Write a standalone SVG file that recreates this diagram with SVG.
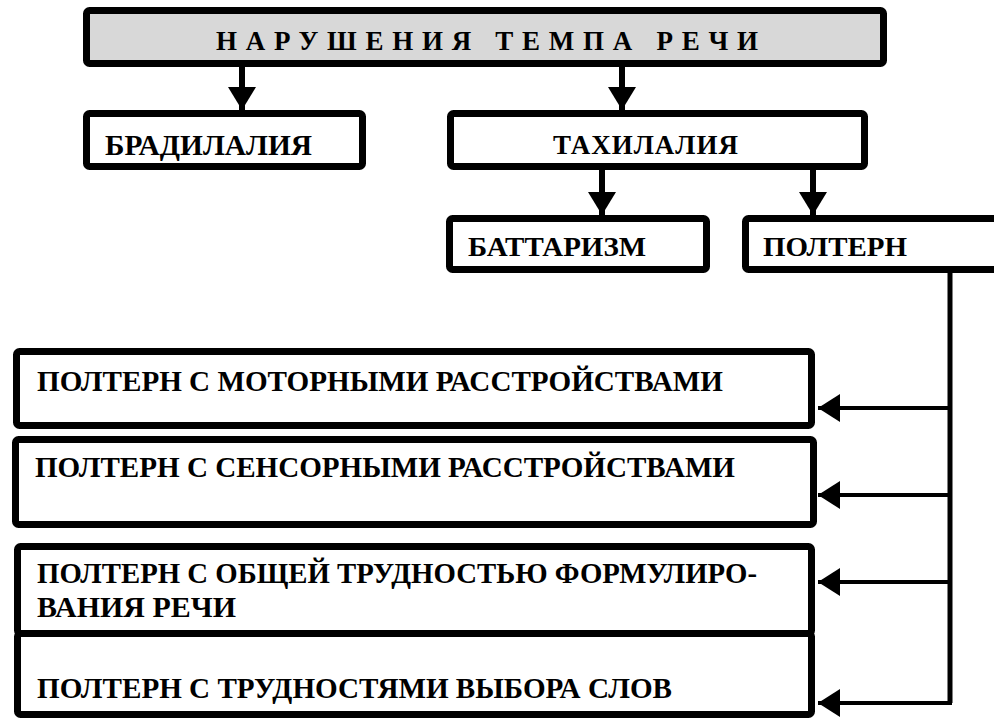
<svg xmlns="http://www.w3.org/2000/svg" width="994" height="721" viewBox="0 0 994 721">
  <style>
    .box { fill: #ffffff; stroke: #000000; stroke-width: 7; }
    .head { fill: #d8d8d8; }
    .lbl { font-family: "Liberation Serif", "Times New Roman", serif; font-weight: bold; fill: #000000; }
    .s27 { font-size: 27px; }
    .s29 { font-size: 29px; }
    .s30 { font-size: 30px; }
    .down { stroke: #000000; stroke-width: 6; fill: none; }
    .side { stroke: #000000; stroke-width: 4; fill: none; }
    .trunk { stroke: #000000; stroke-width: 5; fill: none; }
  </style>
  <defs>
    <marker id="arrDown" markerUnits="userSpaceOnUse" markerWidth="28" markerHeight="24" refX="14" refY="23" orient="0" viewBox="0 0 28 24">
      <path d="M0,0 L28,0 L14,23 Z" fill="#000000"/>
    </marker>
    <marker id="arrLeft" markerUnits="userSpaceOnUse" markerWidth="23" markerHeight="28" refX="1" refY="14" orient="0" viewBox="0 0 23 28">
      <path d="M23,0 L23,28 L1,14 Z" fill="#000000"/>
    </marker>
  </defs>
  <rect width="994" height="721" fill="#ffffff"/>

  <!-- connectors -->
  <g id="connectors">
    <line class="down" x1="242" y1="66" x2="242" y2="110" marker-end="url(#arrDown)"/>
    <line class="down" x1="622" y1="66" x2="622" y2="110" marker-end="url(#arrDown)"/>
    <line class="down" x1="602" y1="169" x2="602" y2="215" marker-end="url(#arrDown)"/>
    <line class="down" x1="813" y1="169" x2="813" y2="215" marker-end="url(#arrDown)"/>
    <polyline class="trunk" points="950,272 950,703"/>
    <line class="side" x1="950" y1="408" x2="818" y2="408" marker-end="url(#arrLeft)"/>
    <line class="side" x1="950" y1="495" x2="818" y2="495" marker-end="url(#arrLeft)"/>
    <line class="side" x1="950" y1="582" x2="818" y2="582" marker-end="url(#arrLeft)"/>
    <line class="side" x1="952" y1="703" x2="818" y2="703" marker-end="url(#arrLeft)"/>
  </g>

  <!-- nodes -->
  <g id="root">
    <rect class="box head" x="86.5" y="10.5" width="797" height="53" rx="3"/>
    <text class="lbl s27" x="216" y="50" textLength="542" lengthAdjust="spacing">НАРУШЕНИЯ ТЕМПА РЕЧИ</text>
  </g>
  <g id="bradilalia">
    <rect class="box" x="86.5" y="113.5" width="276" height="53" rx="3"/>
    <text class="lbl s29" x="105" y="155" textLength="207" lengthAdjust="spacingAndGlyphs">БРАДИЛАЛИЯ</text>
  </g>
  <g id="tahilalia">
    <rect class="box" x="450.5" y="113.5" width="414" height="53" rx="3"/>
    <text class="lbl s27" x="553" y="154" textLength="185" lengthAdjust="spacing">ТАХИЛАЛИЯ</text>
  </g>
  <g id="battarizm">
    <rect class="box" x="449.5" y="218.5" width="257" height="51" rx="3"/>
    <text class="lbl s27" x="468" y="256" textLength="178" lengthAdjust="spacingAndGlyphs">БАТТАРИЗМ</text>
  </g>
  <g id="polter">
    <rect class="box" x="745.5" y="218.5" width="260" height="51" rx="3"/>
    <text class="lbl s27" x="763" y="256" textLength="144" lengthAdjust="spacingAndGlyphs">ПОЛТЕРН</text>
  </g>
  <g id="polter-motor">
    <rect class="box" x="16.5" y="351.5" width="795" height="74" rx="3"/>
    <text class="lbl s30" x="37" y="391" textLength="686" lengthAdjust="spacingAndGlyphs">ПОЛТЕРН С МОТОРНЫМИ РАССТРОЙСТВАМИ</text>
  </g>
  <g id="polter-sensor">
    <rect class="box" x="15.5" y="439.5" width="798" height="85" rx="3"/>
    <text class="lbl s30" x="35" y="477" textLength="700" lengthAdjust="spacingAndGlyphs">ПОЛТЕРН С СЕНСОРНЫМИ РАССТРОЙСТВАМИ</text>
  </g>
  <g id="polter-formulation">
    <rect class="box" x="17.5" y="546.5" width="794" height="87" rx="3"/>
    <text class="lbl s30" x="37" y="583" textLength="720" lengthAdjust="spacingAndGlyphs">ПОЛТЕРН С ОБЩЕЙ ТРУДНОСТЬЮ ФОРМУЛИРО-</text>
    <text class="lbl s30" x="37" y="617" textLength="199" lengthAdjust="spacingAndGlyphs">ВАНИЯ  РЕЧИ</text>
  </g>
  <g id="polter-words">
    <rect class="box" x="17.5" y="633.5" width="794" height="81" rx="3"/>
    <text class="lbl s30" x="37" y="698" textLength="635" lengthAdjust="spacingAndGlyphs">ПОЛТЕРН С ТРУДНОСТЯМИ ВЫБОРА СЛОВ</text>
  </g>
</svg>
